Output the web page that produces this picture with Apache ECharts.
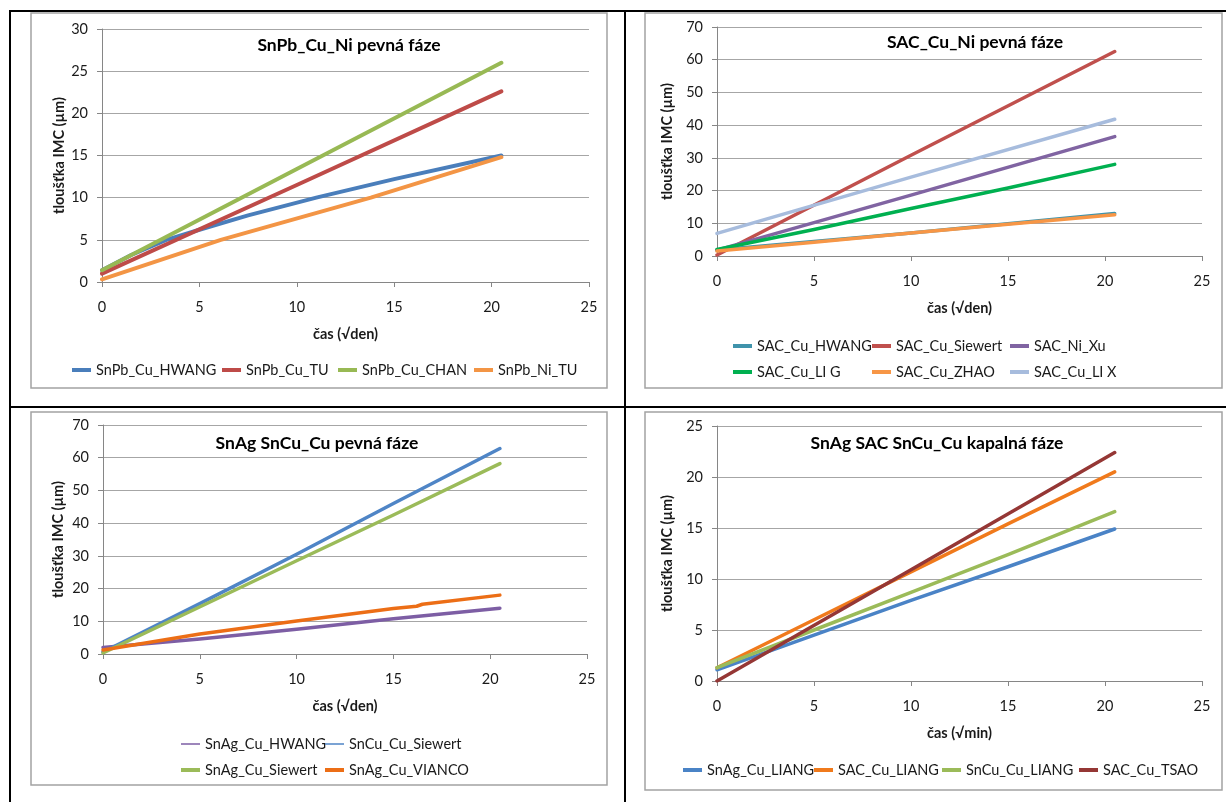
<!DOCTYPE html>
<html>
<head>
<meta charset="utf-8">
<title>Růst IMC</title>
<script src="https://cdn.jsdelivr.net/npm/echarts@6/dist/echarts.min.js"></script>
<style>
  html, body { margin: 0; padding: 0; background: #fff; }
  #chart { width: 1226px; height: 802px; }
</style>
</head>
<body>
<div id="chart"></div>
<script>
// ---- axis ranges [min, max, interval] ----
const timeRange = [0, 25, 5];
const yRangeSnPb = [0, 30, 5];
const yRangeSAC = [0, 70, 10];
const yRangeSnAgSolid = [0, 70, 10];
const yRangeLiquid = [0, 25, 5];

// ---- texts ----
const panelTitles = [
  'SnPb_Cu_Ni pevná fáze',
  'SAC_Cu_Ni pevná fáze',
  'SnAg SnCu_Cu pevná fáze',
  'SnAg SAC SnCu_Cu kapalná fáze'
];
const yName = 'tloušťka IMC (µm)';
const xNames = ['čas (√den)', 'čas (√den)', 'čas (√den)', 'čas (√min)'];

// ---- panel 1: SnPb on Cu / Ni, solid state, [√day, µm] ----
const snPbCuHwang = [[0, 1.4], [1.5, 3.2], [3.3, 5.0], [5, 6.2], [7.5, 7.9], [11, 10.0], [15, 12.2], [20.5, 15.0]];
const snPbCuTu = [[0, 1.0], [10, 11.5], [20.5, 22.6]];
const snPbCuChan = [[0, 1.4], [10, 13.4], [20.5, 26.0]];
const snPbNiTu = [[0, 0.3], [6.1, 5.0], [13.8, 10.0], [20.5, 14.8]];

// ---- panel 2: SAC on Cu / Ni, solid state ----
const sacCuHwang = [[0, 1.8], [10, 7.0], [20.5, 13.0]];
const sacCuSiewert = [[0, 0.3], [10, 30.8], [20.5, 62.5]];
const sacNiXu = [[0, 1.8], [10, 18.6], [20.5, 36.5]];
const sacCuLiG = [[0, 2.0], [5, 8.1], [10, 14.5], [15, 20.8], [20.5, 28.0]];
const sacCuZhao = [[0, 1.5], [5, 4.2], [10, 7.0], [15, 9.7], [20.5, 12.6]];
const sacCuLiX = [[0, 6.9], [10, 24.1], [20.5, 41.8]];

// ---- panel 3: SnAg / SnCu on Cu, solid state ----
const snAgCuHwang = [[0, 2.0], [5, 4.6], [10, 7.6], [15, 10.8], [20.5, 14.0]];
const snCuCuSiewert = [[0, 0.6], [5, 15.4], [10, 30.5], [15, 46.0], [20.5, 62.8]];
const snAgCuSiewert = [[0, 0.3], [10, 28.5], [15, 42.5], [20.5, 58.2]];
const snAgCuVianco = [[0, 1.2], [5, 6.1], [10, 10.1], [15, 13.9], [16.2, 14.6], [16.5, 15.2], [20.5, 18.0]];

// ---- panel 4: liquid state, [√min, µm] ----
const snAgCuLiang = [[0, 1.1], [5, 4.5], [10, 7.9], [15, 11.2], [20.5, 14.9]];
const sacCuLiang = [[0, 1.3], [5, 6.0], [10, 10.7], [15, 15.4], [20.5, 20.5]];
const snCuCuLiang = [[0, 1.3], [5, 5.0], [10, 8.7], [15, 12.4], [20.5, 16.6]];
const sacCuTsao = [[0, 0], [10, 10.9], [20.5, 22.4]];

const FONT = 'Lato, "Noto Sans", "DejaVu Sans", sans-serif';
const TXT = '#1a1a1a';

// panel series definitions: [name, data, colour, width]
const panels = [
  {
    grid: { left: 102, top: 29, width: 487, height: 253 },
    yRange: yRangeSnPb,
    yNameGap: 35,
    series: [
      ['SnPb_Cu_HWANG', snPbCuHwang, '#4A7EBB', 4],
      ['SnPb_Cu_TU', snPbCuTu, '#BE4B48', 4],
      ['SnPb_Cu_CHAN', snPbCuChan, '#98B954', 4],
      ['SnPb_Ni_TU', snPbNiTu, '#F39545', 4]
    ]
  },
  {
    grid: { left: 717, top: 27, width: 485, height: 229 },
    yRange: yRangeSAC,
    yNameGap: 42,
    series: [
      ['SAC_Cu_HWANG', sacCuHwang, '#3F93AB', 3.5],
      ['SAC_Cu_Siewert', sacCuSiewert, '#C0504D', 3.5],
      ['SAC_Ni_Xu', sacNiXu, '#8064A2', 3.5],
      ['SAC_Cu_LI G', sacCuLiG, '#00B050', 3.5],
      ['SAC_Cu_ZHAO', sacCuZhao, '#F79646', 3.5],
      ['SAC_Cu_LI X', sacCuLiX, '#A7BCDD', 3.5]
    ]
  },
  {
    grid: { left: 103, top: 425, width: 484, height: 229 },
    yRange: yRangeSnAgSolid,
    yNameGap: 37,
    series: [
      ['SnAg_Cu_HWANG', snAgCuHwang, '#7D5EA4', 3.5],
      ['SnCu_Cu_Siewert', snCuCuSiewert, '#4F85C6', 3.5],
      ['SnAg_Cu_Siewert', snAgCuSiewert, '#9BBB59', 3.5],
      ['SnAg_Cu_VIANCO', snAgCuVianco, '#EC6E16', 3.5]
    ]
  },
  {
    grid: { left: 717, top: 426, width: 485, height: 255 },
    yRange: yRangeLiquid,
    yNameGap: 42,
    series: [
      ['SnAg_Cu_LIANG', snAgCuLiang, '#4A83C6', 3.5],
      ['SAC_Cu_LIANG', sacCuLiang, '#F07A1C', 3.5],
      ['SnCu_Cu_LIANG', snCuCuLiang, '#9BBB59', 3.5],
      ['SAC_Cu_TSAO', sacCuTsao, '#953735', 3.5]
    ]
  }
];

const titlePos = [[344, 31], [970, 28], [312, 429], [932, 429]];

const grids = [], xAxes = [], yAxes = [], series = [], titles = [];

panels.forEach((p, i) => {
  grids.push(Object.assign({ outerBoundsMode: 'none', containLabel: false }, p.grid));
  xAxes.push({
    type: 'value', gridIndex: i,
    min: timeRange[0], max: timeRange[1], interval: timeRange[2],
    name: xNames[i], nameLocation: 'middle', nameGap: 45,
    nameTextStyle: { fontFamily: FONT, fontSize: 14.5, fontWeight: 'bold', color: TXT },
    axisLine: { show: true, lineStyle: { color: '#868686', width: 1 } },
    axisTick: { show: true, length: 5, lineStyle: { color: '#868686' } },
    axisLabel: { margin: 18, fontFamily: FONT, fontSize: 14.5, color: TXT },
    splitLine: { show: false }
  });
  yAxes.push({
    type: 'value', gridIndex: i,
    min: p.yRange[0], max: p.yRange[1], interval: p.yRange[2],
    name: yName, nameLocation: 'middle', nameGap: p.yNameGap, nameRotate: 90,
    nameTextStyle: { fontFamily: FONT, fontSize: 14.5, fontWeight: 'bold', color: TXT },
    axisLine: { show: true, lineStyle: { color: '#868686', width: 1 } },
    axisTick: { show: true, length: 5, lineStyle: { color: '#868686' } },
    axisLabel: { margin: 14, fontFamily: FONT, fontSize: 14.5, color: TXT },
    splitLine: { show: true, lineStyle: { color: '#A6A6A6', width: 1 } }
  });
  p.series.forEach(([name, data, color, width]) => {
    series.push({
      type: 'line', name, data,
      xAxisIndex: i, yAxisIndex: i,
      symbol: 'none', smooth: false,
      lineStyle: { color, width, cap: 'round', join: 'round' }, itemStyle: { color },
      emphasis: { disabled: true }
    });
  });
  titles.push({
    text: panelTitles[i], left: titlePos[i][0], top: titlePos[i][1], textAlign: 'center',
    textStyle: { fontFamily: FONT, fontSize: 17.5, fontWeight: 'bold', color: '#000' }
  });
});

// one legend entry per component so the rows and columns line up
function legendItem(name, left, centerY, thin) {
  const h = thin ? 1.5 : 4;
  return {
    left, top: centerY - 12,
    icon: 'rect', itemWidth: 19, itemHeight: h,
    selectedMode: false,
    textStyle: { fontFamily: FONT, fontSize: 14.5, color: TXT, lineHeight: 18 },
    data: [name]
  };
}
const legends = [
  legendItem('SnPb_Cu_HWANG', 67, 368),
  legendItem('SnPb_Cu_TU', 217, 368),
  legendItem('SnPb_Cu_CHAN', 333, 368),
  legendItem('SnPb_Ni_TU', 469, 368),

  legendItem('SAC_Cu_HWANG', 728, 344),
  legendItem('SAC_Cu_Siewert', 867, 344),
  legendItem('SAC_Ni_Xu', 1005, 344),
  legendItem('SAC_Cu_LI G', 728, 370),
  legendItem('SAC_Cu_ZHAO', 867, 370),
  legendItem('SAC_Cu_LI X', 1005, 370),

  legendItem('SnAg_Cu_HWANG', 176, 742, true),
  legendItem('SnCu_Cu_Siewert', 320, 742, true),
  legendItem('SnAg_Cu_Siewert', 176, 768),
  legendItem('SnAg_Cu_VIANCO', 320, 768),

  legendItem('SnAg_Cu_LIANG', 678, 768),
  legendItem('SAC_Cu_LIANG', 809, 768),
  legendItem('SnCu_Cu_LIANG', 937, 768),
  legendItem('SAC_Cu_TSAO', 1074, 768)
];

// table frame and chart boxes
const black = { stroke: '#000', lineWidth: 2 };
const boxStyle = { fill: 'none', stroke: '#A3A3A3', lineWidth: 1.5 };
const graphic = [
  { type: 'line', shape: { x1: 9, y1: 11, x2: 1226, y2: 11 }, style: black },
  { type: 'line', shape: { x1: 9, y1: 407, x2: 1226, y2: 407 }, style: black },
  { type: 'line', shape: { x1: 10, y1: 10, x2: 10, y2: 802 }, style: black },
  { type: 'line', shape: { x1: 625, y1: 10, x2: 625, y2: 802 }, style: black },
  { type: 'rect', shape: { x: 31, y: 13, width: 576, height: 375 }, style: boxStyle },
  { type: 'rect', shape: { x: 645, y: 13, width: 577, height: 375 }, style: boxStyle },
  { type: 'rect', shape: { x: 31, y: 412, width: 576, height: 373 }, style: boxStyle },
  { type: 'rect', shape: { x: 645, y: 412, width: 577, height: 378 }, style: boxStyle }
];

const chart = echarts.init(document.getElementById('chart'), null, { renderer: 'canvas' });
chart.setOption({
  backgroundColor: '#fff',
  animation: false,
  title: titles,
  grid: grids,
  xAxis: xAxes,
  yAxis: yAxes,
  legend: legends,
  graphic,
  series
});
</script>
</body>
</html>
